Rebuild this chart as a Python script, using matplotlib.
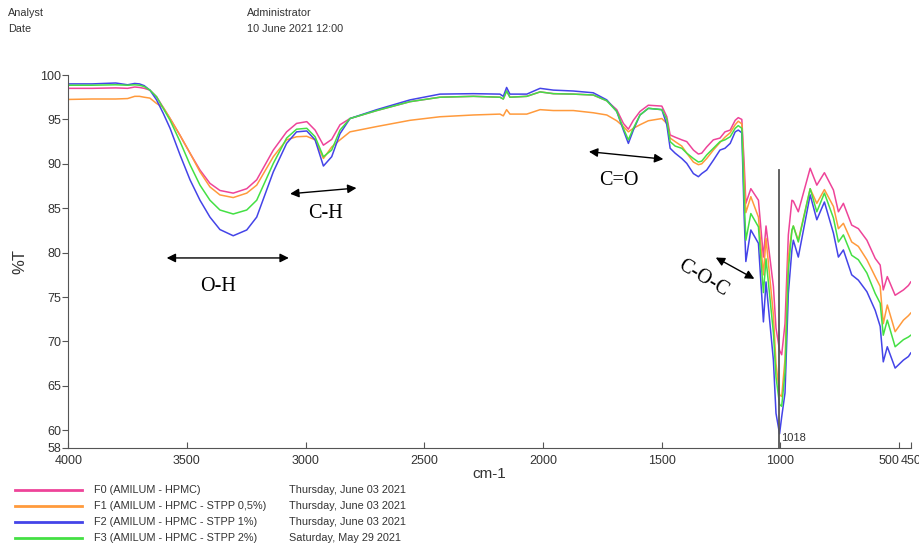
import matplotlib.pyplot as plt
from matplotlib.lines import Line2D

plt.rcParams['font.family'] = ['Liberation Sans', 'DejaVu Sans']

# wavenumbers (cm-1)
wn = [4000, 3900, 3800, 3750, 3720, 3700, 3680, 3656, 3628, 3600, 3571, 3529, 3487,
      3445, 3403, 3361, 3305, 3248, 3206, 3136, 3080, 3038, 2995, 2960, 2925, 2890,
      2855, 2813, 2700, 2560, 2434, 2293, 2181, 2167, 2153, 2139, 2068, 2012, 1956,
      1872, 1788, 1731, 1689, 1661, 1640, 1619, 1591, 1556, 1499, 1478, 1464, 1443,
      1415, 1394, 1366, 1345, 1331, 1310, 1282, 1254, 1233, 1211, 1190, 1177, 1162,
      1152, 1145, 1124, 1092, 1071, 1060, 1029, 1018, 1003, 994, 980, 966, 951, 945,
      924, 874, 846, 814, 776, 755, 734, 699, 671, 635, 600, 579, 566, 549, 516, 481,
      460, 450]

f0 = [98.5, 98.5, 98.55, 98.5, 98.65, 98.6, 98.5, 98.3, 97.55, 96.35, 95.1, 93.2, 91.2,
      89.3, 87.8, 87.0, 86.7, 87.2, 88.2, 91.55, 93.6, 94.55, 94.75, 93.8, 92.1, 92.75,
      94.4, 95.1, 96.0, 97.0, 97.5, 97.6, 97.5, 97.3, 98.2, 97.5, 97.6, 98.1, 97.9,
      97.85, 97.75, 97.1, 96.1, 94.55, 93.9, 94.9, 95.9, 96.6, 96.5, 95.3, 93.25, 93.0,
      92.7, 92.5, 91.55, 91.1, 91.2, 91.9, 92.7, 92.9, 93.6, 93.8, 94.9, 95.2, 95.0,
      90.0, 85.55, 87.2, 85.9, 79.5, 83.0, 76.2, 71.5, 69.0, 68.5, 72.0, 82.0, 85.9, 85.8,
      84.6, 89.5, 87.6, 89.0, 87.05, 84.6, 85.55, 83.1, 82.7, 81.4, 79.35, 78.6, 75.8,
      77.3, 75.2, 75.8, 76.3, 76.7]

f1 = [97.25, 97.3, 97.3, 97.35, 97.6, 97.6, 97.5, 97.4, 96.8, 96.35, 95.1, 93.2, 91.2,
      89.1, 87.4, 86.5, 86.2, 86.7, 87.6, 90.8, 92.7, 93.05, 93.1, 92.7, 90.6, 91.9,
      92.7, 93.6, 94.2, 94.9, 95.3, 95.5, 95.6, 95.4, 96.1, 95.6, 95.6, 96.1, 96.0,
      96.0, 95.75, 95.5, 94.85, 94.2, 93.6, 94.0, 94.4, 94.85, 95.1, 94.55, 92.9, 92.5,
      92.0, 91.2, 90.2, 89.9, 90.0, 90.6, 91.55, 92.4, 93.0, 93.5, 94.4, 94.8, 94.5,
      88.5, 84.5, 86.3, 84.0, 77.5, 81.6, 73.0, 67.5, 64.0, 63.8, 68.0, 79.5, 82.5, 83.0,
      81.4, 87.2, 85.55, 87.1, 85.2, 82.7, 83.3, 81.2, 80.7, 79.2, 77.3, 76.2, 72.0,
      74.1, 71.1, 72.4, 72.9, 73.2]

f2 = [99.0, 99.0, 99.1, 98.9, 99.05, 99.0, 98.8, 98.3, 97.2, 95.7, 94.0, 91.0, 88.2,
      85.9, 84.0, 82.6, 81.9, 82.55, 84.0, 89.1, 92.3, 93.6, 93.7, 92.7, 89.75, 90.8,
      93.4, 95.1, 96.1, 97.2, 97.85, 97.9, 97.85, 97.6, 98.6, 97.85, 97.85, 98.5, 98.3,
      98.2, 98.0, 97.2, 95.9, 93.8, 92.3, 93.8, 95.5, 96.25, 96.1, 94.4, 91.75, 91.2,
      90.6, 90.05, 88.9, 88.55, 88.9, 89.3, 90.4, 91.55, 91.75, 92.3, 93.6, 93.8, 93.5,
      84.0, 79.0, 82.55, 81.05, 72.2, 76.7, 67.9, 61.9, 59.6, 61.5, 64.2, 75.4, 80.3, 81.4,
      79.5, 86.5, 83.7, 85.7, 82.2, 79.5, 80.3, 77.5, 76.9, 75.6, 73.5, 71.7, 67.7,
      69.4, 67.0, 67.9, 68.3, 68.7]

f3 = [98.85, 98.85, 98.9, 98.85, 98.9, 98.85, 98.7, 98.3, 97.55, 96.25, 94.9, 92.5, 89.9,
      87.6, 85.9, 84.8, 84.35, 84.8, 85.9, 90.05, 92.9, 93.9, 94.0, 93.05, 90.8, 91.55,
      93.8, 95.1, 96.0, 97.0, 97.5, 97.6, 97.5, 97.3, 98.2, 97.5, 97.6, 98.1, 97.9,
      97.85, 97.75, 97.1, 95.9, 94.0, 92.7, 94.0, 95.5, 96.25, 96.1, 95.0, 92.5, 92.0,
      91.75, 91.2, 90.6, 90.2, 90.3, 91.0, 91.75, 92.5, 92.7, 93.05, 94.0, 94.3, 94.0,
      86.0, 81.4, 84.4, 82.9, 75.5, 79.3, 71.0, 66.0, 62.9, 62.7, 66.5, 78.0, 82.5, 83.0,
      81.2, 87.2, 84.6, 86.7, 83.9, 81.2, 82.0, 79.7, 79.2, 77.7, 75.4, 74.3, 70.7,
      72.4, 69.4, 70.2, 70.5, 70.7]

names = ['F0 (AMILUM - HPMC)', 'F1 (AMILUM - HPMC - STPP 0,5%)',
         'F2 (AMILUM - HPMC - STPP 1%)', 'F3 (AMILUM - HPMC - STPP 2%)']
dates = ['Thursday, June 03 2021', 'Thursday, June 03 2021',
         'Thursday, June 03 2021', 'Saturday, May 29 2021']
colors = ['#ee4499', '#ff9a3c', '#4444e8', '#44e044']
series = [f0, f1, f2, f3]

xticks = [4000, 3500, 3000, 2500, 2000, 1500, 1000, 500, 450]
yticks = [100, 95, 90, 85, 80, 75, 70, 65, 60, 58]

fig = plt.figure(figsize=(9.2, 5.46), dpi=100)
ax = fig.add_axes([0.0742, 0.1795, 0.9158, 0.6831])

for i in [0, 1, 2, 3]:
    ax.plot(wn, series[i], color=colors[i], lw=1.1)

ax.set_xlim(4000, 450)
ax.set_ylim(58, 100)
ax.set_xticks(xticks)
ax.set_yticks(yticks)
ax.set_xticklabels([str(t) for t in xticks])
ax.tick_params(axis='x', direction='in', length=4, labelsize=9, colors='#555555',
               labelcolor='#333333', pad=5)
ax.tick_params(axis='y', direction='out', length=4, labelsize=9, colors='#555555',
               labelcolor='#333333', pad=1)
# the 500 label sits left of its tick so it clears 450
ax.get_xticklabels()[7].set_horizontalalignment('right')
for s in ['top', 'right']:
    ax.spines[s].set_visible(False)
for s in ['left', 'bottom']:
    ax.spines[s].set_color('#555555')
ax.set_xlabel('cm-1', fontsize=11, color='#333333', labelpad=0)
ax.set_ylabel('%T', fontsize=12, color='#333333', labelpad=9)

# marker line at the C-O-C minimum
ax.plot([1005, 1005], [58, 89.3], color='#555555', lw=1.3)
ax.text(998, 59.1, '1018', fontsize=8, color='#333333', va='center', ha='left')

# band annotations
arrow = dict(arrowstyle='<|-|>', color='black', lw=1.0, mutation_scale=13)
serif = ['Liberation Serif', 'DejaVu Serif']
ax.annotate('', xy=(3059, 79.4), xytext=(3597, 79.4), arrowprops=arrow)
ax.text(3369, 76.2, 'O-H', fontsize=14.5, family=serif, ha='center', va='center')
ax.annotate('', xy=(2774, 87.3), xytext=(3077, 86.6), arrowprops=arrow)
ax.text(2918, 84.4, 'C-H', fontsize=14.5, family=serif, ha='center', va='center')
ax.annotate('', xy=(1481, 90.5), xytext=(1818, 91.4), arrowprops=arrow)
ax.text(1682, 88.1, 'C=O', fontsize=14.5, family=serif, ha='center', va='center')
ax.annotate('', xy=(1099, 76.9), xytext=(1282, 79.6), arrowprops=arrow)
ax.text(1324, 77.1, 'C-O-C', fontsize=14.5, family=serif, ha='center', va='center',
        rotation=-31)

# header
hdr = dict(fontsize=7.8, color='#333333', va='center')
fig.text(8 / 920, 1 - 13 / 546, 'Analyst', **hdr)
fig.text(8 / 920, 1 - 29 / 546, 'Date', **hdr)
fig.text(247 / 920, 1 - 13 / 546, 'Administrator', **hdr)
fig.text(247 / 920, 1 - 29 / 546, '10 June 2021 12:00', **hdr)

# legend block
rows = [490, 506, 521.7, 538.3]
for i in range(4):
    yy = 1 - rows[i] / 546
    fig.add_artist(Line2D([15 / 920, 82 / 920], [yy, yy], color=colors[i], lw=2,
                          transform=fig.transFigure))
    fig.text(94 / 920, yy, names[i], fontsize=7.8, color='#333333', va='center')
    fig.text(289 / 920, yy, dates[i], fontsize=7.8, color='#333333', va='center')

fig.savefig('out.png', dpi=100)
